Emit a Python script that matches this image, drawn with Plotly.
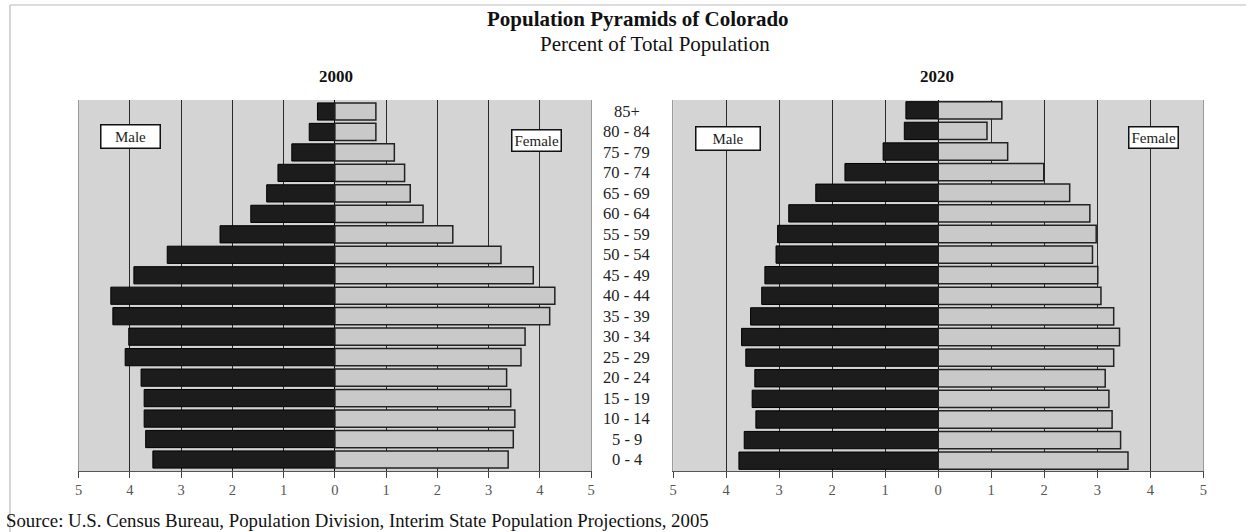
import plotly.graph_objects as go

age_groups = ["0 - 4", "5 - 9", "10 - 14", "15 - 19", "20 - 24", "25 - 29", "30 - 34",
              "35 - 39", "40 - 44", "45 - 49", "50 - 54", "55 - 59", "60 - 64",
              "65 - 69", "70 - 74", "75 - 79", "80 - 84", "85+"]

male_2000 = [3.55, 3.69, 3.72, 3.72, 3.78, 4.09, 4.02, 4.33, 4.37, 3.92, 3.27, 2.24,
             1.64, 1.33, 1.11, 0.84, 0.50, 0.34]
female_2000 = [3.38, 3.48, 3.51, 3.43, 3.35, 3.63, 3.71, 4.19, 4.29, 3.87, 3.24, 2.30,
               1.72, 1.47, 1.36, 1.16, 0.80, 0.80]
male_2020 = [3.76, 3.66, 3.44, 3.51, 3.46, 3.63, 3.71, 3.54, 3.33, 3.27, 3.06, 3.03,
             2.82, 2.31, 1.76, 1.04, 0.64, 0.61]
female_2020 = [3.58, 3.44, 3.28, 3.22, 3.15, 3.31, 3.42, 3.31, 3.07, 3.01, 2.91, 2.98,
               2.86, 2.48, 1.99, 1.31, 0.92, 1.20]

tick_vals = [-5, -4, -3, -2, -1, 0, 1, 2, 3, 4, 5]
tick_text = ["5", "4", "3", "2", "1", "0", "1", "2", "3", "4", "5"]

SERIF = "Liberation Serif, Times New Roman, serif"
MALE_COLOR = "#1c1c1c"
FEMALE_COLOR = "#c9c9c9"
BG = "#d4d4d4"
W, H = 1250, 532

fig = go.Figure()

def add_pair(male, female, xa, ya):
    fig.add_trace(go.Bar(y=age_groups, x=[-v for v in male], orientation="h",
                         marker=dict(color=MALE_COLOR, line=dict(color="#000000", width=1)),
                         xaxis=xa, yaxis=ya, showlegend=False, name="Male"))
    fig.add_trace(go.Bar(y=age_groups, x=female, orientation="h",
                         marker=dict(color=FEMALE_COLOR, line=dict(color="#222222", width=1.5)),
                         xaxis=xa, yaxis=ya, showlegend=False, name="Female"))

add_pair(male_2000, female_2000, "x", "y")
add_pair(male_2020, female_2020, "x2", "y2")

ydom = [(H - 471) / H, (H - 100) / H]
xcommon = dict(range=[-5, 5], tickvals=tick_vals, ticktext=tick_text,
               showgrid=True, gridcolor="#2a2a2a", gridwidth=1.2,
               zeroline=True, zerolinecolor="#000000", zerolinewidth=1,
               showline=True, linecolor="#555555", linewidth=1, mirror=False,
               ticks="outside", ticklen=6, tickcolor="#444444",
               tickfont=dict(family=SERIF, size=14.5, color="#555555"), fixedrange=True)
ycommon = dict(showticklabels=False, showgrid=False, zeroline=False,
               showline=True, linecolor="#9a9a9a", mirror=True, ticks="",
               fixedrange=True)

fig.update_layout(
    width=W, height=H,
    margin=dict(l=0, r=0, t=0, b=0),
    paper_bgcolor="white", plot_bgcolor=BG,
    barmode="relative", bargap=0.16,
    xaxis=dict(domain=[75 / W, 591 / W], anchor="y", **xcommon),
    yaxis=dict(domain=ydom, anchor="x", **ycommon),
    xaxis2=dict(domain=[673.5 / W, 1207 / W], anchor="y2", **xcommon),
    yaxis2=dict(domain=ydom, anchor="x2", **ycommon),
    font=dict(family=SERIF, color="#111111"),
)

annotations = [
    dict(text="<b>Population Pyramids of Colorado</b>", x=638, y=19, size=21),
    dict(text="Percent of Total Population", x=655, y=44, size=21),
    dict(text="<b>2000</b>", x=334, y=76, size=17),
    dict(text="<b>2020</b>", x=939, y=76, size=17),
    dict(text="Source: U.S. Census Bureau, Population Division, Interim State Population Projections, 2005",
         x=0, y=520, size=18.8, xanchor="left"),
]
for a in annotations:
    fig.add_annotation(text=a["text"], x=a["x"] / W, y=(H - a["y"]) / H,
                       xref="paper", yref="paper", showarrow=False,
                       xanchor=a.get("xanchor", "center"), yanchor="middle",
                       font=dict(family=SERIF, size=a["size"], color="#111111"))

for g in age_groups:
    fig.add_annotation(text=g, x=627 / W, xref="paper", y=g, yref="y", showarrow=False,
                       xanchor="center", yanchor="middle",
                       font=dict(family=SERIF, size=16.5, color="#222222"))

boxes = [
    ("Male", 127, 136.5, 52),
    ("Female", 536, 140, None),
    ("Male", 728.5, 139, 57),
    ("Female", 1156.5, 137.5, None),
]
for text, px, py, w in boxes:
    kw = dict(width=w) if w else {}
    fig.add_annotation(text=text, x=px / W, y=(H - py) / H, xref="paper", yref="paper",
                       showarrow=False, xanchor="center", yanchor="middle",
                       bgcolor="white", bordercolor="#111111", borderwidth=1.5,
                       borderpad=2 if w is None else 3,
                       font=dict(family=SERIF, size=15, color="#222222"), **kw)

# light frame lines (top and left) as in the reference
fig.add_shape(type="line", xref="paper", yref="paper", x0=6 / W, x1=1, y0=(H - 5) / H, y1=(H - 5) / H,
              line=dict(color="#d0d0d0", width=1.5))
fig.add_shape(type="line", xref="paper", yref="paper", x0=6 / W, x1=6 / W, y0=0, y1=(H - 5) / H,
              line=dict(color="#c8c8c8", width=1.5))

fig.write_html("out.html", config={"displayModeBar": False},
               post_script="document.body.style.margin='0';")
